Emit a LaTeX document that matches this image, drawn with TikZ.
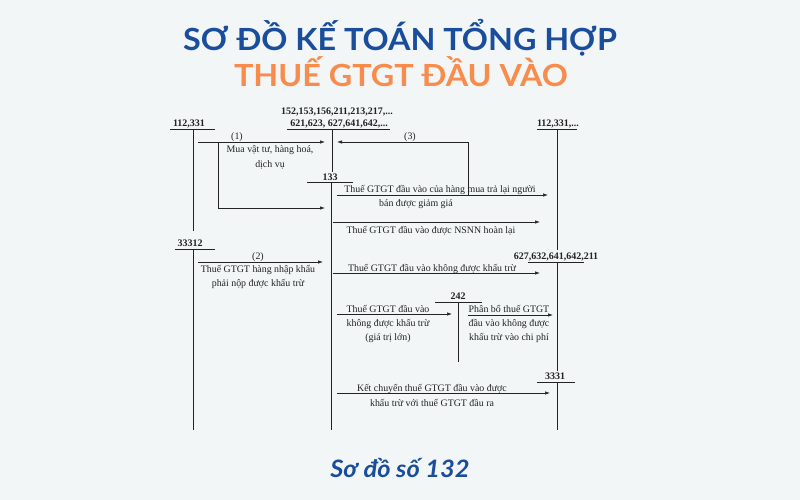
\documentclass[tikz,border=0pt]{standalone}
\usepackage{fontspec}
\setmainfont{Liberation Serif}
\newfontfamily\titlefont[FakeStretch=1.06]{Lato}
\usetikzlibrary{arrows.meta}
\definecolor{bgc}{RGB}{242,246,247}
\definecolor{tblue}{RGB}{26,77,155}
\definecolor{torange}{RGB}{247,140,76}
\definecolor{ink}{RGB}{35,35,35}
\begin{document}
\begin{tikzpicture}[x=1pt,y=-1pt,
  acc/.style={font=\fontsize{10}{12}\selectfont\bfseries, text=ink, inner sep=0pt, anchor=base},
  lbl/.style={font=\fontsize{9.9}{12}\selectfont, text=ink, inner sep=0pt, anchor=base},
  ln/.style={draw=ink, line width=0.7pt},
  arr/.style={ln, -{Latex[length=5pt,width=3.5pt]}},
  ttl/.style={font=\titlefont\bfseries\fontsize{30.5}{34}\selectfont, inner sep=0pt, anchor=base},
]
\fill[bgc] (0,0) rectangle (800,500);
\useasboundingbox (0,0) rectangle (800,500);

% titles
\node[ttl, text=tblue] (t1) at (400,51) {SƠ ĐỒ KẾ TOÁN TỔNG HỢP};
\node[ttl, text=torange] (t2) at (401,87) {THUẾ GTGT ĐẦU VÀO};
\node[font=\titlefont\bfseries\itshape\fontsize{24}{28}\selectfont, text=tblue, inner sep=0pt, anchor=base] (cap) at (400,477) {Sơ đồ số 132};

% account headers
\node[acc] (h112) at (189,127) {112,331};
\node[acc] (h152a) at (337,114) {152,153,156,211,213,217,...};
\node[acc] (h152b) at (339,127) {621,623, 627,641,642,...};
\node[acc] (h133) at (330,180) {133};
\node[acc] (h112b) at (558,127) {112,331,...};
\node[acc] (h33312) at (190,246) {33312};
\node[acc] (h627) at (556,259) {627,632,641,642,211};
\node[acc] (h242) at (458,299.5) {242};
\node[acc] (h3331) at (555,379) {3331};

% T-account lines
\coordinate (v112t) at (193,129.5); \coordinate (v112b) at (193,231);
\coordinate (v152t) at (332,129.5); \coordinate (v152b) at (332,172);
\coordinate (v133t) at (331,182.5); \coordinate (v133b) at (331,430);
\coordinate (vRt) at (557,129.5); \coordinate (vRb) at (557,250);
\coordinate (v333t) at (193,249.5); \coordinate (v333b) at (193,430);
\coordinate (v627t) at (557,262.5); \coordinate (v627b) at (557,371);
\coordinate (v242t) at (458,302.5); \coordinate (v242b) at (458,362);
\coordinate (v3331t) at (557,382.5); \coordinate (v3331b) at (557,430);

\draw[ln] (170,129.5) -- (215,129.5);
\draw[ln] (287,129.5) -- (390,129.5);
\draw[ln] (307,182.5) -- (353,182.5);
\draw[ln] (537,129.5) -- (577,129.5);
\draw[ln] (175,249.5) -- (215,249.5);
\draw[ln] (528,262.5) -- (584,262.5);
\draw[ln] (435,302.5) -- (482,302.5);
\draw[ln] (537,382.5) -- (575,382.5);

\draw[ln] (v112t) -- (v112b);
\draw[ln] (v152t) -- (v152b);
\draw[ln] (v133t) -- (v133b);
\draw[ln] (vRt) -- (vRb);
\draw[ln] (v333t) -- (v333b);
\draw[ln] (v627t) -- (v627b);
\draw[ln] (v242t) -- (v242b);
\draw[ln] (v3331t) -- (v3331b);

% connector points
\coordinate (p1s) at (198,142); \coordinate (p1e) at (325,142);
\coordinate (p1b) at (218,142); \coordinate (p1c) at (218,208); \coordinate (p1d) at (325,208);
\coordinate (p3s) at (468,195); \coordinate (p3c) at (468,142); \coordinate (p3e) at (337,142);
\coordinate (p4s) at (337,195); \coordinate (p4e) at (548,195);
\coordinate (p5s) at (333,222); \coordinate (p5e) at (540,222);
\coordinate (p2s) at (198,262); \coordinate (p2e) at (323,262);
\coordinate (p6s) at (333,273); \coordinate (p6e) at (540,273);
\coordinate (p7s) at (337,314); \coordinate (p7e) at (452,314);
\coordinate (p8s) at (468,315); \coordinate (p8e) at (553,315);
\coordinate (p9s) at (337,393); \coordinate (p9e) at (550,393);

\draw[arr] (p1s) -- (p1e);
\draw[arr] (p1b) -- (p1c) -- (p1d);
\draw[arr] (p3s) -- (p3c) -- (p3e);
\draw[arr] (p4s) -- (p4e);
\draw[arr] (p5s) -- (p5e);
\draw[arr] (p2s) -- (p2e);
\draw[arr] (p6s) -- (p6e);
\draw[arr] (p7s) -- (p7e);
\draw[arr] (p8s) -- (p8e);
\draw[arr] (p9s) -- (p9e);

% labels
\node[lbl] (n1) at (237,139.5) {(1)};
\node[lbl] (l1a) at (270,153) {Mua vật tư, hàng hoá,};
\node[lbl] (l1b) at (270,167) {dịch vụ};
\node[lbl] (n3) at (410,139.5) {(3)};
\node[lbl] (l4a) at (440,192.5) {Thuế GTGT đầu vào của hàng mua trả lại người};
\node[lbl] (l4b) at (416,206) {bán được giảm giá};
\node[lbl] (l5) at (431,233) {Thuế GTGT đầu vào được NSNN hoàn lại};
\node[lbl] (n2) at (258,259.5) {(2)};
\node[lbl] (l2a) at (258,272) {Thuế GTGT hàng nhập khẩu};
\node[lbl] (l2b) at (258,286) {phải nộp được khấu trừ};
\node[lbl] (l6) at (432,271) {Thuế GTGT đầu vào không được khấu trừ};
\node[lbl] (l7a) at (388,312) {Thuế GTGT đầu vào};
\node[lbl] (l7b) at (388,326) {không được khấu trừ};
\node[lbl] (l7c) at (388,340) {(giá trị lớn)};
\node[lbl] (l8a) at (509,312) {Phân bổ thuế GTGT};
\node[lbl] (l8b) at (509,326) {đầu vào không được};
\node[lbl] (l8c) at (509,340) {khấu trừ vào chi phí};
\node[lbl] (l9a) at (432,391) {Kết chuyển thuế GTGT đầu vào được};
\node[lbl] (l9b) at (432,406) {khấu trừ với thuế GTGT đầu ra};
\end{tikzpicture}
\end{document}
